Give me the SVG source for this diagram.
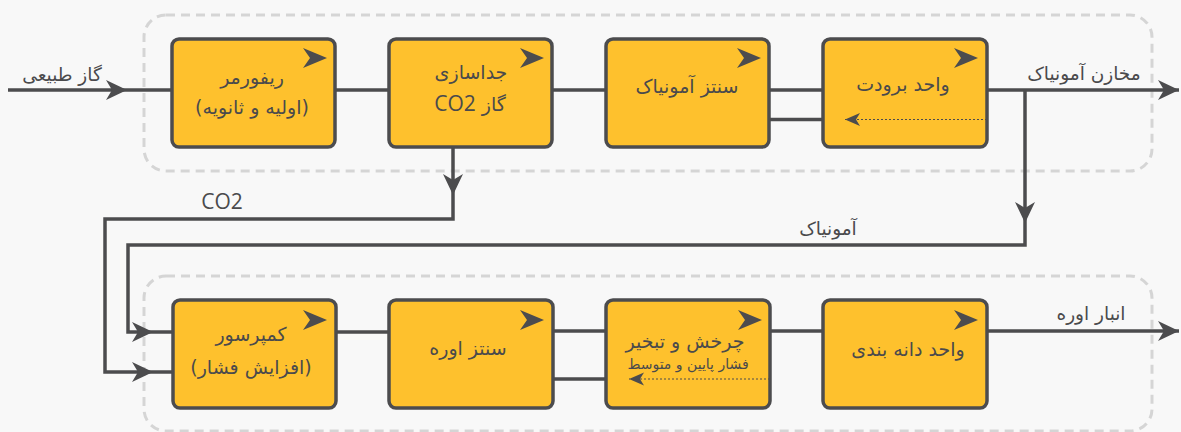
<svg xmlns="http://www.w3.org/2000/svg" xmlns:xlink="http://www.w3.org/1999/xlink" width="1181" height="432" viewBox="0 0 1181 432">
<style>
.bg{fill:#f8f8f8}
.grp{fill:none;stroke:#d5d5d5;stroke-width:3;stroke-dasharray:9 6}
.box{fill:#fec12d;stroke:#4c4c4e;stroke-width:3.5}
.ln{fill:none;stroke:#4c4c4e;stroke-width:3.5}
.dot{fill:none;stroke:#4c4c4e;stroke-width:1;stroke-dasharray:2 2}
text{font-family:"DejaVu Sans","Noto Sans",sans-serif;fill:#4a4a4c;text-anchor:middle;direction:rtl}
.t{font-size:19px}
.s{font-size:14px}
.lb{font-size:18.5px}
.co{font-size:21px;font-family:"Open Sans","DejaVu Sans",sans-serif}
</style>
<defs>
<marker id="arr" markerUnits="userSpaceOnUse" markerWidth="26" markerHeight="24" viewBox="-23 -12 25 24" refX="0" refY="0" orient="auto">
<path d="M0,0 L-21,-10 L-15,0 L-21,10 Z" fill="#4c4c4e"/>
</marker>
<marker id="sarr" markerUnits="userSpaceOnUse" markerWidth="18" markerHeight="16" viewBox="-16 -8 18 16" refX="0" refY="0" orient="auto">
<path d="M0,0 L-15,-6.5 L-11,0 L-15,6.5 Z" fill="#4c4c4e"/>
</marker>
<path id="ca" d="M0,0 L-24,-10 L-17,0 L-24,10 Z" fill="#4c4c4e"/>
</defs>
<rect class="bg" x="0" y="0" width="1181" height="432"/>

<g id="group-ammonia"><rect class="grp" x="144" y="15" width="1008" height="156" rx="22"/></g>
<g id="group-urea"><rect class="grp" x="144" y="276" width="1008" height="155" rx="22"/></g>

<g id="connectors">
<path class="ln" d="M8,90 H127" marker-end="url(#arr)"/>
<path class="ln" d="M127,90 H172"/>
<path class="ln" d="M335,90 H389"/>
<path class="ln" d="M552,90 H606"/>
<path class="ln" d="M769,90 H823"/>
<path class="ln" d="M769,119.5 H823"/>
<path class="ln" d="M987,90 H1179" marker-end="url(#arr)"/>
<path class="ln" d="M1025,90 V223" marker-end="url(#arr)"/>
<path class="ln" d="M1025,223 V245 H128 V332 H153" marker-end="url(#arr)"/>
<path class="ln" d="M153,332 H172"/>
<path class="ln" d="M453,147 V195" marker-end="url(#arr)"/>
<path class="ln" d="M453,195 V219 H105 V372 H153" marker-end="url(#arr)"/>
<path class="ln" d="M153,372 H172"/>
<path class="ln" d="M336,332 H389"/>
<path class="ln" d="M553,331 H606"/>
<path class="ln" d="M553,379 H606"/>
<path class="ln" d="M770,331 H823"/>
<path class="ln" d="M987,331 H1179" marker-end="url(#arr)"/>
<text class="lb" x="62" y="81">گاز طبیعی</text>
<text class="lb" x="1084" y="80">مخازن آمونیاک</text>
<text class="co" x="222" y="209" style="direction:ltr">CO2</text>
<text class="lb" x="828" y="235">آمونیاک</text>
<text class="lb" x="1091" y="320">انبار اوره</text>
</g>

<g id="reformer">
<rect class="box" x="172" y="39" width="163" height="108" rx="7"/>
<use xlink:href="#ca" x="327" y="58"/>
<text class="t" x="252" y="84">ریفورمر</text>
<text class="t" x="252" y="114">(اولیه و ثانویه)</text>
</g>

<g id="co2-separation">
<rect class="box" x="389" y="39" width="163" height="108" rx="7"/>
<use xlink:href="#ca" x="544" y="58"/>
<text class="t" x="471" y="79">جداسازی</text>
<text class="t" x="470" y="111">گاز <tspan class="co">CO2</tspan></text>
</g>

<g id="ammonia-synthesis">
<rect class="box" x="606" y="39" width="163" height="108" rx="7"/>
<use xlink:href="#ca" x="761" y="58"/>
<text class="t" x="687" y="93">سنتز آمونیاک</text>
</g>

<g id="refrigeration">
<rect class="box" x="823" y="39" width="164" height="108" rx="7"/>
<use xlink:href="#ca" x="978" y="58"/>
<text class="t" x="903" y="91">واحد برودت</text>
<path class="dot" d="M987,119.5 H845" marker-end="url(#sarr)"/>
</g>

<g id="compressor">
<rect class="box" x="173" y="300" width="163" height="108" rx="7"/>
<use xlink:href="#ca" x="327" y="320"/>
<text class="t" x="251" y="341">کمپرسور</text>
<text class="t" x="251" y="374">(افزایش فشار)</text>
</g>

<g id="urea-synthesis">
<rect class="box" x="389" y="300" width="164" height="108" rx="7"/>
<use xlink:href="#ca" x="544" y="320"/>
<text class="t" x="468" y="355">سنتز اوره</text>
</g>

<g id="recycle-evaporation">
<rect class="box" x="606" y="300" width="164" height="108" rx="7"/>
<use xlink:href="#ca" x="762" y="320"/>
<text class="t" x="685" y="348">چرخش و تبخیر</text>
<text class="s" x="688" y="369">فشار پایین و متوسط</text>
<path class="dot" d="M770,379 H629" marker-end="url(#sarr)"/>
</g>

<g id="granulation">
<rect class="box" x="823" y="300" width="164" height="108" rx="7"/>
<use xlink:href="#ca" x="978" y="320"/>
<text class="t" x="908" y="356">واحد دانه بندی</text>
</g>
</svg>
